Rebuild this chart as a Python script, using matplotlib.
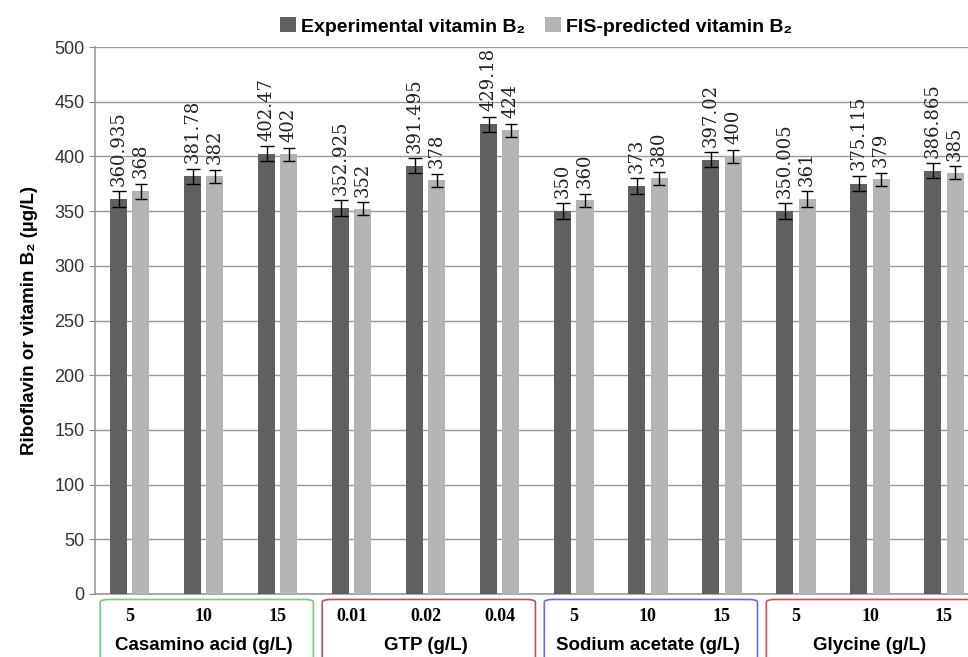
import matplotlib.pyplot as plt
import numpy as np
from matplotlib.patches import FancyBboxPatch

plt.rcParams['font.family'] = ['Liberation Sans', 'DejaVu Sans']

groups = ['Casamino acid (g/L)', 'GTP (g/L)', 'Sodium acetate (g/L)', 'Glycine (g/L)']
levels = ['5', '10', '15', '0.01', '0.02', '0.04', '5', '10', '15', '5', '10', '15']
experimental = [360.935, 381.78, 402.47, 352.925, 391.495, 429.18,
                350, 373, 397.02, 350.005, 375.115, 386.865]
predicted = [368, 382, 402, 352, 378, 424, 360, 380, 400, 361, 379, 385]
exp_err = [7, 7, 7, 7, 7, 7, 7, 7, 7, 7, 7, 7]
pred_err = [7, 6, 6, 6, 6, 6, 6, 6, 6, 7, 6, 6]
box_colors = ['#6fcf7a', '#b8505e', '#6a6ae0', '#e04848']

fig = plt.figure(figsize=(9.68, 6.57), dpi=100)
ax = fig.add_axes([95 / 968, 63 / 657, 886 / 968, 547 / 657])

x = np.arange(len(levels))
w = 0.23
ax.bar(x - 0.15, experimental, w, color='#606060', zorder=3,
       label='Experimental vitamin B₂')
ax.bar(x + 0.15, predicted, w, color='#b4b4b4', zorder=3,
       label='FIS-predicted vitamin B₂')
ax.errorbar(x - 0.15, experimental, yerr=exp_err, fmt='none', ecolor='black',
            elinewidth=1, capsize=5, zorder=4)
ax.errorbar(x + 0.15, predicted, yerr=pred_err, fmt='none', ecolor='black',
            elinewidth=1, capsize=4, zorder=4)

for xi, v, e in zip(x, experimental, exp_err):
    ax.text(xi - 0.15, v + e + 5, f'{v:g}', rotation=90, ha='center', va='bottom',
            fontsize=13, color='#222222', family='DejaVu Serif')
for xi, v, e in zip(x, predicted, pred_err):
    ax.text(xi + 0.15, v + e + 5, f'{v:g}', rotation=90, ha='center', va='bottom',
            fontsize=13, color='#222222', family='DejaVu Serif')

ax.set_xlim(-0.47, len(levels) - 0.5)
ax.set_ylim(0, 500)
ax.set_yticks(np.arange(0, 501, 50))
ax.tick_params(axis='y', labelsize=13, length=4, color='#888888', labelcolor='#333333')
ax.set_xticks([])
ax.yaxis.grid(True, color='#999999', linewidth=1, zorder=0)
for s in ['right', 'top']:
    ax.spines[s].set_visible(False)
for s in ['left', 'bottom']:
    ax.spines[s].set_color('#999999')
    ax.spines[s].set_linewidth(1.2)
ax.set_ylabel('Riboflavin or vitamin B₂ (µg/L)', fontsize=13.5, fontweight='bold',
              labelpad=12)

# level numbers and group boxes under the axis
for xi, lv in zip(x, levels):
    ax.text(xi, -0.042, lv, transform=ax.get_xaxis_transform(), ha='center',
            va='center', fontsize=13, fontweight='bold', family='Liberation Serif')
for g, (name, col) in enumerate(zip(groups, box_colors)):
    x0 = 3 * g - 0.4
    box = FancyBboxPatch((x0, -0.12), 2.88, 0.11, transform=ax.get_xaxis_transform(),
                         boxstyle='round,pad=0,rounding_size=0.12', fill=False,
                         edgecolor=col, linewidth=1.2, clip_on=False,
                         mutation_aspect=0.04)
    ax.add_patch(box)
    ax.text(3 * g + 1, -0.095, name, transform=ax.get_xaxis_transform(),
            ha='center', va='center', fontsize=13.5, fontweight='bold')

leg = fig.legend(loc='upper center', bbox_to_anchor=(0.554, 1.0), ncol=2,
                 frameon=False, handlelength=0.8, handleheight=0.8,
                 columnspacing=1.0, handletextpad=0.3,
                 prop={'weight': 'bold', 'size': 14})

fig.savefig('out.png', dpi=100)
